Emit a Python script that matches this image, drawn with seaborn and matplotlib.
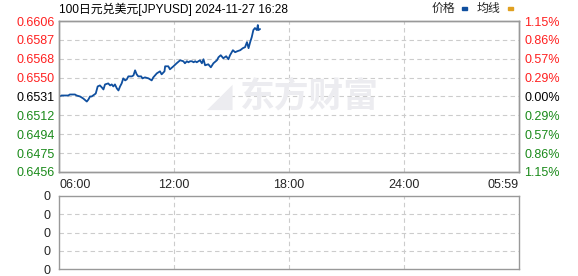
import matplotlib
matplotlib.use("Agg")
import matplotlib.pyplot as plt
import seaborn as sns
import pandas as pd
import numpy as np

# ---- data (minutes after 06:00, price) ----
minutes = [0, 1, 8, 18, 29, 34, 42, 50, 55, 66, 76, 87, 92, 97, 102, 111, 115,
           121, 128, 134, 139, 144, 154, 160, 165, 170, 175, 181, 186, 191, 196,
           201, 207, 212, 217, 228, 233, 238, 243, 248, 257, 261, 269, 280, 290,
           295, 306, 316, 321, 330, 332, 342, 347, 358, 368, 379, 389, 394, 400,
           405, 410, 416, 421, 426, 431, 436, 441, 447, 452, 457, 467, 475, 483,
           494, 499, 506, 514, 523, 530, 535, 544, 551, 558, 567, 575, 582, 588,
           593, 598, 603, 608, 613, 619, 622, 624, 629]
prices = [0.6534, 0.6531, 0.6532, 0.6532, 0.6532, 0.6533, 0.6533, 0.6533, 0.6532,
          0.6531, 0.6529, 0.6526, 0.6528, 0.6531, 0.6531, 0.6533, 0.6534,
          0.6541, 0.6542, 0.6540, 0.6538, 0.6543, 0.6544, 0.6542, 0.6543, 0.6541,
          0.6543, 0.6539, 0.6537, 0.6541, 0.6544, 0.6549, 0.6547, 0.6548, 0.6551,
          0.6551, 0.6552, 0.6557, 0.6553, 0.6551, 0.6551, 0.6549, 0.6550, 0.6549,
          0.6547, 0.6550, 0.6554, 0.6556, 0.6553, 0.6556, 0.6561, 0.6561, 0.6558,
          0.6561, 0.6564, 0.6567, 0.6566, 0.6564, 0.6566, 0.6565, 0.6566, 0.6566,
          0.6565, 0.6566, 0.6565, 0.6566, 0.6567, 0.6564, 0.6568, 0.6562, 0.6563,
          0.6560, 0.6564, 0.6567, 0.6570, 0.6572, 0.6569, 0.6571, 0.6568, 0.6572,
          0.6577, 0.6575, 0.6576, 0.6577, 0.6579, 0.6580, 0.6585, 0.6579, 0.6585,
          0.6590, 0.6597, 0.6599, 0.6597, 0.6602, 0.6597, 0.6598]
base_price = 0.6531
left_labels = ["0.6606", "0.6587", "0.6568", "0.6550", "0.6531", "0.6512",
               "0.6494", "0.6475", "0.6456"]
right_labels = ["1.15%", "0.86%", "0.57%", "0.29%", "0.00%", "0.29%",
                "0.57%", "0.86%", "1.15%"]
x_ticks = [0, 360, 720, 1080, 1439]
x_labels = ["06:00", "12:00", "18:00", "24:00", "05:59"]
vol_labels = ["0", "0", "0", "0", "0"]
title = "100日元兑美元[JPYUSD] 2024-11-27 16:28"

# ---- style ----
sns.set_style("white")
plt.rcParams['font.family'] = ['Liberation Sans', 'Noto Sans CJK SC']

W, H = 578, 276
fig = plt.figure(figsize=(W / 100, H / 100), dpi=100)

def rect(l, t, r, b):
    return [l / W, 1 - b / H, (r - l) / W, (b - t) / H]

ax = fig.add_axes(rect(59, 21, 519, 172))
axv = fig.add_axes(rect(59, 196, 519, 269))

LINE = "#0f4f9f"
df = pd.DataFrame({"t": minutes, "price": prices})
sns.lineplot(data=df, x="t", y="price", ax=ax, color=LINE, linewidth=1.3)

ymin, ymax = 0.6456, 0.6606
ax.set_xlim(0, 1439)
ax.set_ylim(ymin, ymax)
yt = np.linspace(ymax, ymin, len(left_labels))
ax.set_yticks(yt)
ax.set_yticklabels(left_labels)
red, green = "#ff2020", "#1a8a1a"
for i, lab in enumerate(ax.get_yticklabels()):
    lab.set_color(red if i < 4 else ("#000000" if i == 4 else green))
ax.set_xticks(x_ticks)
ax.set_xticklabels(x_labels)
ticks = ax.xaxis.get_major_ticks()
ticks[0].label1.set_horizontalalignment("left")
ticks[-1].label1.set_horizontalalignment("right")
ax.tick_params(axis="both", length=0, labelsize=9, pad=3)
ax.tick_params(axis="x", pad=5)
ax.set_xlabel("")
ax.set_ylabel("")

axr = ax.twinx()
axr.set_ylim(ymin, ymax)
axr.set_yticks(yt)
axr.set_yticklabels(right_labels)
for i, lab in enumerate(axr.get_yticklabels()):
    lab.set_color(red if i < 4 else ("#000000" if i == 4 else green))
axr.tick_params(axis="y", length=0, labelsize=9, pad=4)

grid_kw = dict(color="#cccccc", linestyle=(0, (4, 3)), linewidth=0.8, zorder=0)
for v in yt[1:-1]:
    ax.axhline(v, **grid_kw)
for v in x_ticks[1:-1]:
    ax.axvline(v, **grid_kw)
    axv.axvline(v, **grid_kw)

for a in (ax, axr, axv):
    for s in a.spines.values():
        s.set_color("#999999")
        s.set_linewidth(1.0)

# volume panel
axv.set_xlim(0, 1439)
axv.set_ylim(0, 4)
axv.set_yticks([4, 3, 2, 1, 0])
axv.set_yticklabels(vol_labels)
for v in [1, 2, 3]:
    axv.axhline(v, **grid_kw)
axv.set_xticks([])
axv.tick_params(axis="y", length=0, labelsize=9, pad=6)

# watermark
fig.text(240 / W, 1 - 96 / H, "东方财富", fontsize=25, color="#ececf0",
         family=["Noto Sans CJK SC"], weight="bold", va="center", ha="left",
         zorder=0)
fig.text(220 / W, 1 - 96 / H, "◢", fontsize=24, color="#ececf0",
         family=["DejaVu Sans"], va="center", ha="center", zorder=0)

# title and legend
fig.text(59 / W, 1 - 9 / H, title, fontsize=8.6, color="#000000", va="center",
         ha="left")
fig.text(432 / W, 1 - 9 / H, "价格", fontsize=8.6, va="center", ha="left")
fig.patches.append(plt.Rectangle((462 / W, 1 - 10 / H), 5 / W, 3 / H,
                                 transform=fig.transFigure, color=LINE))
fig.text(477 / W, 1 - 9 / H, "均线", fontsize=8.6, va="center", ha="left")
fig.patches.append(plt.Rectangle((508 / W, 1 - 10 / H), 5 / W, 3 / H,
                                 transform=fig.transFigure, color="#e0a020"))

fig.savefig("out.png", dpi=100)
